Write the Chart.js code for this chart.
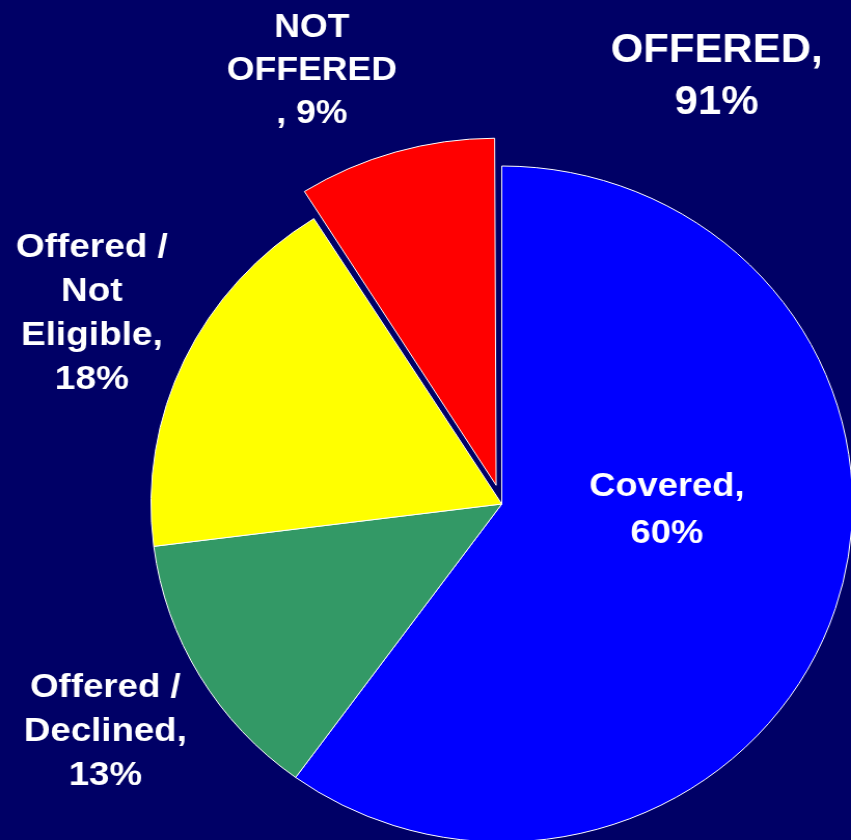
<!DOCTYPE html>
<html>
<head>
<meta charset="utf-8">
<script src="https://cdn.jsdelivr.net/npm/chart.js@4"></script>
<style>
    html, body { margin: 0; padding: 0; background: #000066; overflow: hidden; }
    #planChart { display: block; width: 851px; height: 840px; }
</style>
</head>
<body>
<canvas id="planChart" width="820" height="840" style="width:851px;height:840px"></canvas>
<script>
// Dados do gráfico
const categories = ['Covered', 'Offered / Declined', 'Offered / Not Eligible', 'NOT OFFERED'];
const values = [60, 13, 18, 9];
const sliceColors = ['#0000FF', '#339966', '#FFFF00', '#FF0000'];
// quebras de linha dos rótulos, {v} = valor
const labelLines = [
    ['Covered,', '{v}%'],
    ['Offered /', 'Declined,', '{v}%'],
    ['Offered /', 'Not', 'Eligible,', '{v}%'],
    ['NOT', 'OFFERED', ', {v}%']
];
const offeredParts = [0, 1, 2]; // fatias somadas em "OFFERED"
const offeredTotal = offeredParts.reduce((s, i) => s + values[i], 0);

// posição dos rótulos em relação ao centro da pizza (x, baseline da 1ª linha)
const labelSpots = [
    { dx: 159, dy: -8, lh: 47, size: 33, sx: 1.06 },
    { dx: -382, dy: 193, lh: 44, size: 33, sx: 1.07 },
    { dx: -395, dy: -247, lh: 44, size: 33, sx: 1.08 },
    { dx: -183, dy: -467, lh: 43, size: 33, sx: 1.04 }
];
const offeredSpot = { dx: 207, dy: -442, lh: 52, size: 40, sx: 1.01 };

const FONT = '"Liberation Sans", Arial, sans-serif';

function drawLines(ctx, lines, x, y, spot) {
    ctx.save();
    ctx.translate(x, y);
    ctx.scale(spot.sx, 1);
    ctx.font = 'bold ' + spot.size + 'px ' + FONT;
    lines.forEach((t, i) => ctx.fillText(t, 0, i * spot.lh));
    ctx.restore();
}

const pieLabels = {
    id: 'pieLabels',
    afterDatasetsDraw(chart) {
        const ctx = chart.ctx;
        const arcs = chart.getDatasetMeta(0).data;
        const cx = arcs[0].x, cy = arcs[0].y;
        ctx.save();
        ctx.fillStyle = '#FFFFFF';
        ctx.textAlign = 'center';
        ctx.textBaseline = 'alphabetic';
        labelLines.forEach((lines, i) => {
            const txt = lines.map(l => l.replace('{v}', values[i]));
            const s = labelSpots[i];
            drawLines(ctx, txt, cx + s.dx, cy + s.dy, s);
        });
        drawLines(ctx, ['OFFERED,', offeredTotal + '%'], cx + offeredSpot.dx, cy + offeredSpot.dy, offeredSpot);
        ctx.restore();
    }
};

const ctx = document.getElementById('planChart').getContext('2d');
const chart = new Chart(ctx, {
    type: 'pie',
    data: {
        labels: categories,
        datasets: [{
            data: values,
            backgroundColor: sliceColors,
            borderColor: '#FFFFFF',
            borderWidth: 1,
            offset: [0, 0, 0, 78]
        }]
    },
    options: {
        responsive: false,
        animation: false,
        devicePixelRatio: 1,
        radius: 338,
        layout: { padding: { left: 147, right: 0, top: 168, bottom: 0 } },
        plugins: {
            legend: { display: false },
            tooltip: { enabled: false }
        }
    },
    plugins: [pieLabels]
});
</script>
</body>
</html>
